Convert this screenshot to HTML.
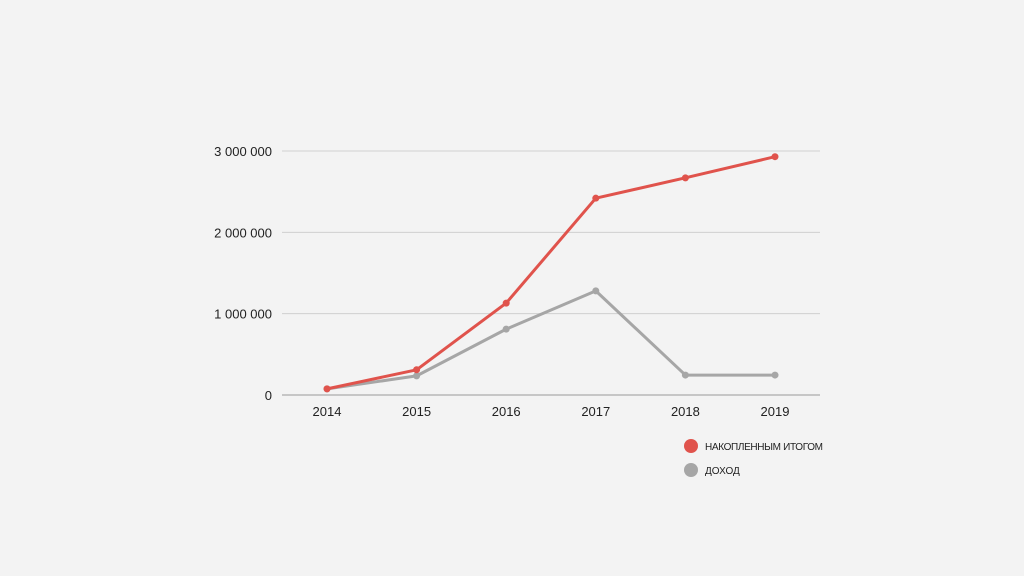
<!DOCTYPE html>
<html><head><meta charset="utf-8"><style>
body{margin:0;background:#f3f3f3;}
svg{display:block;font-family:"Liberation Sans","DejaVu Sans",sans-serif;}
</style></head><body>
<svg id="c" width="1024" height="576"></svg>
<script>
const categories=["2014","2015","2016","2017","2018","2019"];
const cumulative=[75000,310000,1130000,2420000,2670000,2930000];
const income=[75000,235000,810000,1280000,245000,245000];
const yTicks=[0,1000000,2000000,3000000];
const yTickLabels=["0","1 000 000","2 000 000","3 000 000"];
const NS="http://www.w3.org/2000/svg";
const svg=document.getElementById('c');
function el(t,a,p){const e=document.createElementNS(NS,t);for(const k in a)e.setAttribute(k,a[k]);(p||svg).appendChild(e);return e;}
const x=i=>327+i*89.6;
const y=v=>395-v*(395-151)/3000000;
yTicks.forEach((t,i)=>{
const g=el('line',{x1:282,x2:820,y1:y(t),y2:y(t),stroke:t===0?'#999':'#d0d0d0','stroke-width':1});


const tx=el('text',{x:272,y:y(t)+5,'text-anchor':'end','font-size':13,fill:'#222'});
tx.textContent=yTickLabels[i];


});
categories.forEach((c,i)=>{
const tx=el('text',{x:x(i),y:416,'text-anchor':'middle','font-size':13,fill:'#222'});
tx.textContent=c;


});
function series(vals,color,name){
const p=el('polyline',{points:vals.map((v,i)=>x(i)+','+y(v)).join(' '),fill:'none',stroke:color,'stroke-width':3,'stroke-linejoin':'round'});


vals.forEach((v,i)=>{
const d=el('circle',{cx:x(i),cy:y(v),r:3.5,fill:color});


});
}
series(income,'#a6a6a6','income');
series(cumulative,'#e0534c','cumulative');
[["НАКОПЛЕННЫМ ИТОГОМ",'#e0534c',446],["ДОХОД",'#a6a6a6',470]].forEach((l,i)=>{
const g=el('g',{});


el('circle',{cx:691,cy:l[2],r:7,fill:l[1]},g);
const t=el('text',{x:705,y:l[2]+4,'font-size':10,fill:'#222',textLength:i===0?118:null});
g.appendChild(t);
if(i!==0)t.removeAttribute('textLength');
t.textContent=l[0];
});
</script>
</body></html>
